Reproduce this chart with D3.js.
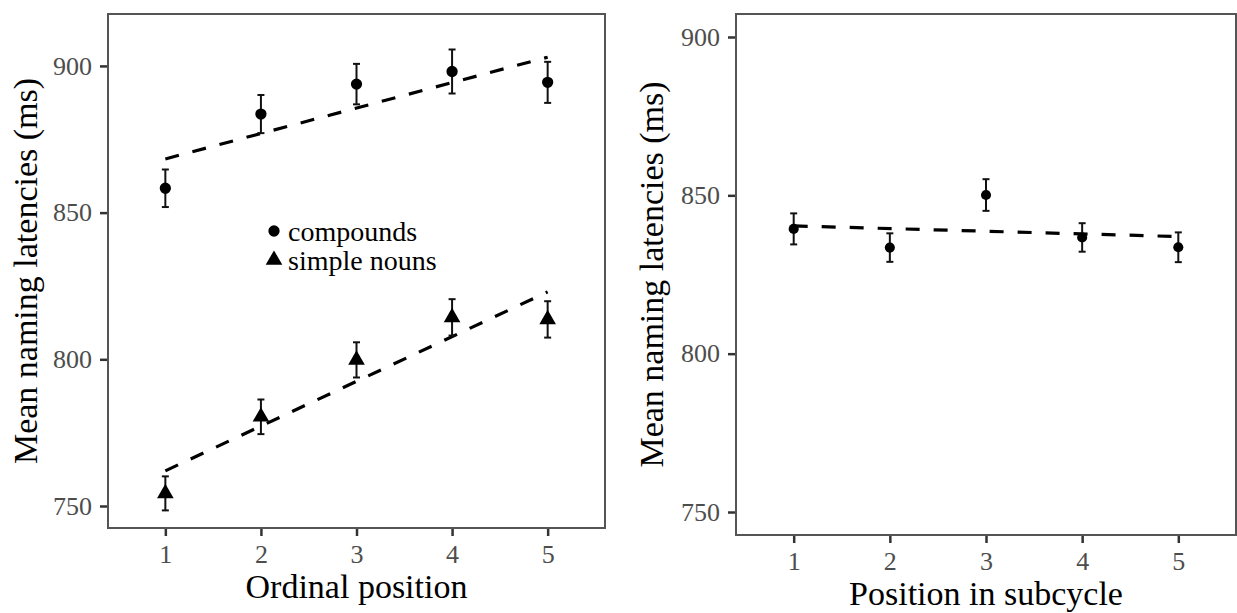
<!DOCTYPE html>
<html>
<head>
<meta charset="utf-8">
<script src="https://cdn.jsdelivr.net/npm/d3@7"></script>
<style>
  body { margin: 0; background: #fff; }
  svg { display: block; font-family: "Liberation Serif", "Times New Roman", serif; }
  .tick text { fill: #4d4d4d; font-size: 26px; font-family: "Liberation Serif", "Times New Roman", serif; }
  .tick line { stroke: #333; stroke-width: 2.5; }
  .domain { display: none; }
</style>
</head>
<body>
<div id="chart"></div>
<script>
// values
const positions = [1, 2, 3, 4, 5];
const compounds = [858.3, 883.6, 893.8, 898.1, 894.4];
const compoundsErr = [6.4, 6.5, 6.9, 7.5, 7.0];
const simpleNouns = [754.3, 780.4, 799.8, 814.3, 813.6];
const simpleNounsErr = [5.8, 5.9, 6.0, 6.2, 6.2];
const subcycle = [839.4, 833.5, 850.1, 836.7, 833.6];
const subcycleErr = [4.9, 4.5, 5.0, 4.5, 4.7];
const yTicks = [750, 800, 850, 900];
const legendLabels = ['compounds', 'simple nouns'];

const W = 1237, H = 613;

const svg = d3.select('#chart')
  .append('svg')
  .attr('width', W)
  .attr('height', H);

// least squares fit, same as geom_smooth(method = 'lm')
function fit(xs, ys) {
  const mx = d3.mean(xs), my = d3.mean(ys);
  const b = d3.sum(xs, (x, i) => (x - mx) * (ys[i] - my)) / d3.sum(xs, x => (x - mx) ** 2);
  const a = my - b * mx;
  return [xs[0], xs[xs.length - 1]].map(x => ({ x, y: a + b * x }));
}

function panel(cfg) {
  const g = svg.append('g');
  const x = d3.scaleLinear().domain([0.4, 5.6]).range([cfg.left, cfg.right]);
  const y = d3.scaleLinear().domain(cfg.yDomain).range([cfg.bottom, cfg.top]);

  g.append('g')
    .attr('transform', `translate(0,${cfg.bottom})`)
    .call(d3.axisBottom(x).tickValues(positions).tickFormat(d3.format('d')).tickSize(8).tickPadding(6))
    .call(s => s.selectAll('.tick text').attr('dy', '0.8em'));

  g.append('g')
    .attr('transform', `translate(${cfg.left},0)`)
    .call(d3.axisLeft(y).tickValues(yTicks).tickSize(8).tickPadding(8));

  g.append('rect')
    .attr('x', cfg.left).attr('y', cfg.top)
    .attr('width', cfg.right - cfg.left).attr('height', cfg.bottom - cfg.top)
    .attr('fill', 'none').attr('stroke', '#555').attr('stroke-width', 2);

  const line = d3.line().x(d => x(d.x)).y(d => y(d.y));

  cfg.series.forEach(s => {
    g.append('path')
      .attr('d', line(fit(positions, s.values)))
      .attr('fill', 'none')
      .attr('stroke', '#000')
      .attr('stroke-width', 3.2)
      .attr('stroke-dasharray', '14,14');

    const pts = positions.map((p, i) => ({ p, v: s.values[i], e: s.err[i] }));
    const eb = g.append('g').attr('stroke', '#111').attr('stroke-width', 2);
    eb.selectAll('line.v').data(pts).join('line').attr('class', 'v')
      .attr('x1', d => x(d.p)).attr('x2', d => x(d.p))
      .attr('y1', d => y(d.v - d.e)).attr('y2', d => y(d.v + d.e));
    [-1, 1].forEach(k => {
      eb.selectAll(null).data(pts).join('line')
        .attr('x1', d => x(d.p) - 3.5).attr('x2', d => x(d.p) + 3.5)
        .attr('y1', d => y(d.v + k * d.e)).attr('y2', d => y(d.v + k * d.e));
    });

    g.selectAll(null).data(pts).join('path')
      .attr('transform', d => `translate(${x(d.p)},${y(d.v)})`)
      .attr('d', d3.symbol(s.shape === 'triangle' ? d3.symbolTriangle : d3.symbolCircle, s.size)())
      .attr('fill', '#000');
  });

  g.append('text')
    .attr('x', (cfg.left + cfg.right) / 2)
    .attr('y', cfg.xTitleY)
    .attr('text-anchor', 'middle')
    .attr('font-size', 34)
    .text(cfg.xTitle);

  g.append('text')
    .attr('transform', `translate(${cfg.yTitleX},${(cfg.top + cfg.bottom) / 2}) rotate(-90)`)
    .attr('text-anchor', 'middle')
    .attr('font-size', 34)
    .text('Mean naming latencies (ms)');

  return { g, x, y };
}

panel({
  left: 108, right: 605, top: 14, bottom: 528,
  yDomain: [742.5, 917.7],
  xTitle: 'Ordinal position', xTitleY: 598, yTitleX: 37,
  series: [
    { values: compounds, err: compoundsErr, shape: 'circle', size: 100 },
    { values: simpleNouns, err: simpleNounsErr, shape: 'triangle', size: 120 }
  ]
});

// legend inside left panel
const legend = svg.append('g');
const legendShapes = [d3.symbolCircle, d3.symbolTriangle];
const legendSizes = [100, 120];
legendLabels.forEach((lab, i) => {
  const yy = 231 + i * 29;
  legend.append('path')
    .attr('transform', `translate(274,${yy})`)
    .attr('d', d3.symbol(legendShapes[i], legendSizes[i])())
    .attr('fill', '#000');
  legend.append('text')
    .attr('x', 288).attr('y', yy + 10)
    .attr('font-size', 28)
    .text(lab);
});

panel({
  left: 736, right: 1236, top: 14, bottom: 535,
  yDomain: [742.74, 907.26],
  xTitle: 'Position in subcycle', xTitleY: 605, yTitleX: 663,
  series: [
    { values: subcycle, err: subcycleErr, shape: 'circle', size: 80 }
  ]
});
</script>
</body>
</html>
